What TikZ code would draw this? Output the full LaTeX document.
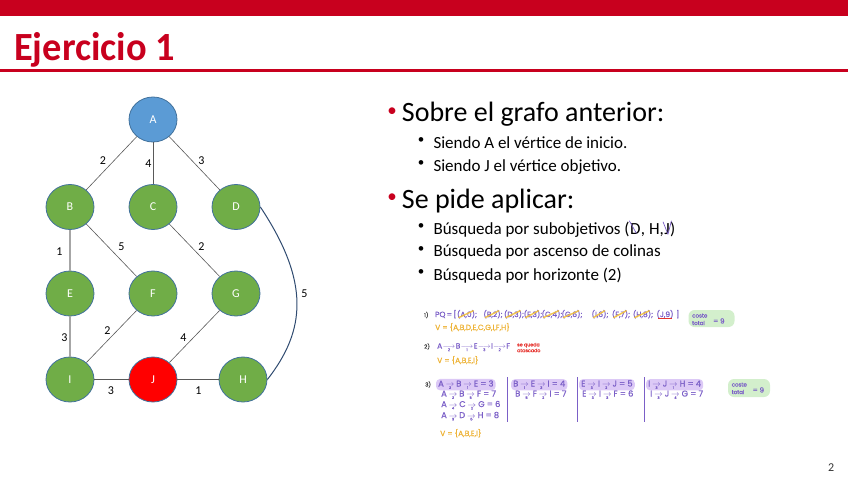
\documentclass[tikz,border=0pt]{standalone}
\usepackage{fontspec}
\setmainfont{Carlito}
\newfontfamily\hwfont{Poppins}[FakeBold=0.8]
\usetikzlibrary{shapes.geometric,fit,backgrounds}
\definecolor{hdred}{HTML}{C8001E}
\definecolor{nodeblue}{HTML}{5B9BD5}
\definecolor{nodegreen}{HTML}{70AD47}
\definecolor{nodered}{HTML}{FF0000}
\definecolor{nodeline}{HTML}{41719C}
\definecolor{edgegray}{HTML}{595959}
\definecolor{edgelight}{HTML}{A6A6A6}
\definecolor{curveblue}{HTML}{2F4B70}
\definecolor{hwp}{HTML}{7B5FC7}
\definecolor{hwo}{HTML}{EDB235}
\definecolor{hwr}{HTML}{E5322D}
\definecolor{hwlav}{HTML}{DCC9F6}
\definecolor{hwgreen}{HTML}{D3EFCC}
\definecolor{hwy}{HTML}{F2C03A}
\newcommand\sarr[1]{\hspace{2pt}\setbox0\hbox{$\rightarrow$}\rlap{\usebox0}\makebox[\wd0][c]{\raisebox{-2.4pt}{\fontsize{3.5}{3.5}\selectfont #1}}\hspace{2pt}}
\newcommand\larr[1]{\hspace{0.3pt}\setbox0\hbox{$\longrightarrow$}\rlap{\usebox0}\makebox[\wd0][c]{\raisebox{-2.6pt}{\fontsize{3.8}{3.8}\selectfont #1}}\hspace{0.3pt}}
\tikzset{
  txt/.style={inner sep=0pt, anchor=base west},
  lvlone/.style={txt, font=\fontsize{28}{28}\selectfont},
  lvltwo/.style={txt, font=\fontsize{17}{17}\selectfont},
  dotone/.style={inner sep=0pt, text=hdred, font=\fontsize{19}{19}\selectfont},
  dottwo/.style={inner sep=0pt, font=\fontsize{13}{13}\selectfont},
  vtx/.style={ellipse, minimum width=48pt, minimum height=45pt, inner sep=0pt,
    draw=nodeline, line width=0.8pt, fill=nodegreen, text=white,
    font=\fontsize{12}{12}\selectfont},
  edge/.style={draw=edgegray, line width=0.6pt},
  edgel/.style={draw=edgelight, line width=1.3pt},
  lbl/.style={inner sep=0pt, font=\fontsize{12}{12}\selectfont},
  hwa/.style={inner sep=0pt, anchor=base west, text=hwp, font=\hwfont\fontsize{7.5}{8}\selectfont},
  hwb/.style={inner sep=0pt, anchor=base west, text=hwp, font=\hwfont\fontsize{8.3}{9}\selectfont},
  hwsmall/.style={inner sep=0pt, anchor=base west, text=hwp, font=\hwfont\fontsize{5.5}{6}\selectfont},
  hweq/.style={inner sep=0pt, anchor=base west, text=hwp, font=\hwfont\fontsize{7}{7}\selectfont},
  hwnum/.style={inner sep=0pt, anchor=base west, text=black!75, font=\hwfont\fontsize{5.5}{6}\selectfont},
  strike/.style={draw=hwy, line width=1.4pt, opacity=0.9, line cap=round},
  pill/.style={fill=hwlav, rounded corners=4pt, inner xsep=2pt, inner ysep=1.2pt},
  gbox/.style={fill=hwgreen, rounded corners=6pt, inner sep=0pt},
  pen/.style={draw=hwp, line width=0.7pt, line cap=round, line join=round}
}
\begin{document}
\begin{tikzpicture}[x=1pt,y=-1pt]
\useasboundingbox (0,0) rectangle (848,477);
% header
\fill[hdred] (0,0) rectangle (848,16);
\fill[hdred] (0,69) rectangle (848,71.5);
\node[txt, text=hdred, font=\fontsize{40}{40}\selectfont\bfseries] (title) at (14,60) {\scalebox{0.96}[1]{Ejercicio 1}};
% graph
\node[vtx, fill=nodeblue] (A) at (153,119.5) {A};
\node[vtx] (B) at (70,207) {B};
\node[vtx] (C) at (153,207) {C};
\node[vtx] (D) at (236,207) {D};
\node[vtx] (E) at (70,293.5) {E};
\node[vtx] (F) at (153,293.5) {F};
\node[vtx] (G) at (236,293.5) {G};
\node[vtx] (I) at (70,379.5) {I};
\node[vtx, fill=nodered] (J) at (153,379.5) {J};
\node[vtx] (H) at (243,379.5) {H};
\draw[edge] (A) -- (B);
\draw[edge] (A) -- (C);
\draw[edge] (A) -- (D);
\draw[edgel] (B) -- (E);
\draw[edge] (B) -- (F);
\draw[edge] (C) -- (G);
\draw[edgel] (E) -- (I);
\draw[edge] (F) -- (I);
\draw[edge] (G) -- (J);
\draw[edge] (I) -- (J);
\draw[edge] (J) -- (H);
\draw[draw=curveblue, line width=1pt] (D.east) .. controls (310,282) and (306,330) .. (H.east);
\node[lbl] (wAB) at (103,160.5) {2};
\node[lbl] (wAC) at (148.5,164) {4};
\node[lbl] (wAD) at (201.5,160.5) {3};
\node[lbl] (wBE) at (59.5,251.5) {1};
\node[lbl] (wBF) at (121.5,246.5) {5};
\node[lbl] (wCG) at (201.5,246.5) {2};
\node[lbl] (wDH) at (304.5,293.5) {5};
\node[lbl] (wEI) at (64.5,337.5) {3};
\node[lbl] (wFI) at (107.5,330.5) {2};
\node[lbl] (wGJ) at (183.5,337.5) {4};
\node[lbl] (wIJ) at (111,391) {3};
\node[lbl] (wJH) at (198.5,391) {1};
% bullets text
\node[dotone] (bu1) at (392,112) {•};
\node[lvlone] (s1) at (401.7,121.7) {Sobre el grafo anterior:};
\node[dottwo] (bu2) at (421,140.5) {•};
\node[lvltwo] (s2) at (433.3,148.3) {Siendo A el vértice de inicio.};
\node[dottwo] (bu3) at (421,164) {•};
\node[lvltwo] (s3) at (433.3,171.7) {Siendo J el vértice objetivo.};
\node[dotone] (bu4) at (392,198.5) {•};
\node[lvlone] (s4) at (401.7,208.3) {Se pide aplicar:};
\node[dottwo] (bu5) at (421,226.5) {•};
\node[lvltwo] (s5a) at (433.3,234) {Búsqueda por subobjetivos (};
\node[lvltwo] (s5D) at (s5a.base east) {D};
\node[lvltwo] (s5b) at (s5D.base east) {,~H,~};
\node[lvltwo] (s5J) at (s5b.base east) {J};
\node[lvltwo] (s5c) at (s5J.base east) {)};
\draw[pen] ([xshift=-0.5pt,yshift=2pt]s5D.north west) -- ([xshift=1pt,yshift=1pt]s5D.south);
\draw[pen] ([xshift=-1pt,yshift=1pt]s5J.north west) -- ([xshift=1pt,yshift=0pt]s5J.south) -- ([xshift=1.5pt,yshift=2pt]s5J.north east);
\node[dottwo] (bu6) at (421,249.5) {•};
\node[lvltwo] (s6) at (433.3,256.7) {Búsqueda por ascenso de colinas};
\node[dottwo] (bu7) at (421,273) {•};
\node[lvltwo] (s7) at (433.3,280) {Búsqueda por horizonte (2)};
% page number
\node[txt, font=\fontsize{12}{12}\selectfont, text=black!80] (pg) at (828,471) {2};
% ---------- handwritten part 1
\node[hwnum] (h1) at (424,317) {1)};
\node[hwa] (pq) at (435,317) {PQ\,=\,[};
\node[hwa, anchor=base] (q1) at (467,317) {(A,0);};
\node[hwa, anchor=base] (q2) at (493,317) {(B,2);};
\node[hwa, anchor=base] (q3) at (514,317) {(D,3);};
\node[hwa, anchor=base] (q4) at (533,317) {(E,3);};
\node[hwa, anchor=base] (q5) at (552,317) {(C,4);};
\node[hwa, anchor=base] (q6) at (572,317) {(G,6);};
\node[hwa, anchor=base] (q7) at (600,317) {(I,6);};
\node[hwa, anchor=base] (q8) at (621,317) {(F,7);};
\node[hwa, anchor=base] (q9) at (643,317) {(H,8);};
\node[hwa, anchor=base] (q10) at (665,317) {(J,9)};
\node[hwa] (qend) at (676,317) {]};
\foreach \q in {q1,q2,q3,q4,q5,q6,q7,q8,q9}{
  \draw[strike] ([xshift=2pt,yshift=1pt]\q.south west) -- ([xshift=-4pt,yshift=-1pt]\q.north east);
}
\draw[draw=hwr, line width=0.9pt] ([xshift=2pt,yshift=0.5pt]q10.south west) -- ([xshift=-1.5pt,yshift=0.5pt]q10.south east);
\node[hwa, text=hwo] (v1) at (435,330) {V = \{A,B,D,E,C,G,I,F,H\}};
\node[gbox, minimum width=46pt, minimum height=17pt] (cb1) at (711.5,318.5) {};
\node[hwsmall] (cs1) at (692,317.5) {coste};
\node[hwsmall] (tt1) at (692,325) {total};
\node[hweq] (eq1) at (713,323.5) {= 9};
% ---------- part 2
\node[hwnum] (h2) at (424,348.5) {2)};
\node[hwa] (ch2) at (437,348.5) {A\larr{2}B\larr{1}E\larr{3}I\larr{2}F};
\node[inner sep=0pt, anchor=west, align=left, text=hwr, font=\hwfont\fontsize{4.8}{5.8}\selectfont] (stuck) at (517,347.5) {se queda\\atascado};
\node[hwa, text=hwo] (v2) at (437,363) {V = \{A,B,E,I\}};
% ---------- part 3
\node[hwnum] (h3) at (425,386.5) {3)};
\node[hwb] (r11) at (438,386.5) {A\sarr{2}B\sarr{1}E = 3};
\node[hwb] (r12) at (441,396.5) {A\sarr{2}B\sarr{5}F = 7};
\node[hwb] (r13) at (441,407) {A\sarr{4}C\sarr{2}G = 6};
\node[hwb] (r14) at (441,418) {A\sarr{3}D\sarr{5}H = 8};
\node[hwa, text=hwo] (v3) at (440,436) {V = \{A,B,E,I\}};
\node[hwb] (r21) at (513,386.5) {B\sarr{1}E\sarr{3}I = 4};
\node[hwb] (r22) at (515,396.5) {B\sarr{5}F\sarr{2}I = 7};
\node[hwb] (r31) at (581,386.5) {E\sarr{3}I\sarr{2}J = 5};
\node[hwb] (r32) at (582,396.5) {E\sarr{3}I\sarr{3}F = 6};
\node[hwb] (r41) at (648,386.5) {I\sarr{3}J\sarr{1}H = 4};
\node[hwb] (r42) at (650,396.5) {I\sarr{3}J\sarr{4}G = 7};
\begin{pgfonlayer}{background}
\node[pill, fit=(r11)] (p1) {};
\node[pill, fit=(r21)] (p2) {};
\node[pill, fit=(r31)] (p3) {};
\node[pill, fit=(r41)] (p4) {};
\end{pgfonlayer}
\draw[hwp, line width=0.9pt] (507.5,377) -- (507.5,422);
\draw[hwp, line width=0.9pt] (577,377) -- (577,422);
\draw[hwp, line width=0.9pt] (644,377) -- (644,422);
\node[gbox, minimum width=42pt, minimum height=18pt] (cb2) at (749,388) {};
\node[hwsmall] (cs2) at (731.5,386.5) {coste};
\node[hwsmall] (tt2) at (731.5,394) {total};
\node[hweq] (eq2) at (752.5,392.5) {= 9};
\end{tikzpicture}
\end{document}
